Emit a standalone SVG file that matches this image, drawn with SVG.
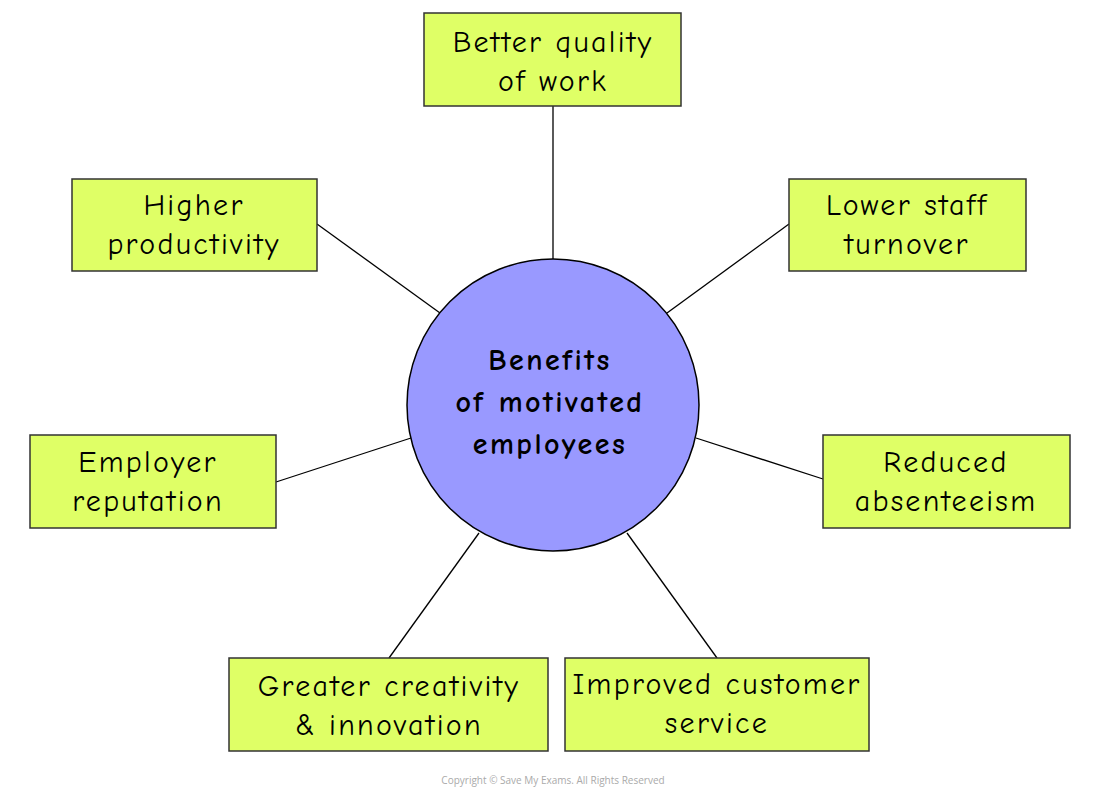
<svg xmlns="http://www.w3.org/2000/svg" width="1100" height="800" viewBox="0 0 1100 800">
<style>
.box{fill:#dfff66;stroke:#333;stroke-width:1.5}
.t{font-family:"Comic Neue","DejaVu Sans","Liberation Sans",sans-serif;font-size:30px;fill:#000;text-anchor:middle;letter-spacing:2.3px}
.c{font-weight:bold;letter-spacing:2.5px}
line{stroke:#000;stroke-width:1.3}
</style>
<rect width="1100" height="800" fill="#fff"/>
<g id="connectors">
<line x1="553" y1="106" x2="553" y2="259"/>
<line x1="317" y1="224" x2="440" y2="313"/>
<line x1="789" y1="224" x2="667" y2="313"/>
<line x1="276" y1="482" x2="411" y2="438"/>
<line x1="823" y1="479" x2="696" y2="438"/>
<line x1="389" y1="658" x2="479" y2="533"/>
<line x1="717" y1="658" x2="627" y2="533"/>
</g>
<g id="center">
<circle cx="553" cy="405" r="146" fill="#9999ff" stroke="#000" stroke-width="1.5"/>
<text class="t c" x="550" y="370">Benefits</text>
<text class="t c" x="550" y="412">of motivated</text>
<text class="t c" x="550" y="454">employees</text>
</g>
<g id="n1"><rect class="box" x="424" y="13" width="257" height="93"/><text class="t" x="553" y="52">Better quality</text><text class="t" x="553" y="91">of work</text></g>
<g id="n2"><rect class="box" x="72" y="179" width="245" height="92"/><text class="t" x="194" y="215">Higher</text><text class="t" x="194" y="254">productivity</text></g>
<g id="n3"><rect class="box" x="789" y="179" width="237" height="92"/><text class="t" x="907" y="215">Lower staff</text><text class="t" x="907" y="254">turnover</text></g>
<g id="n4"><rect class="box" x="30" y="435" width="246" height="93"/><text class="t" x="148" y="472">Employer</text><text class="t" x="148" y="511">reputation</text></g>
<g id="n5"><rect class="box" x="823" y="435" width="247" height="93"/><text class="t" x="946" y="472">Reduced</text><text class="t" x="946" y="511">absenteeism</text></g>
<g id="n6"><rect class="box" x="229" y="658" width="319" height="93"/><text class="t" x="389" y="696">Greater creativity</text><text class="t" x="389" y="735">&amp; innovation</text></g>
<g id="n7"><rect class="box" x="565" y="658" width="304" height="93"/><text class="t" x="717" y="694">Improved customer</text><text class="t" x="717" y="733">service</text></g>
<text x="553" y="784" font-family="Open Sans, sans-serif" font-size="10" fill="#aaa" text-anchor="middle">Copyright © Save My Exams. All Rights Reserved</text>
</svg>
